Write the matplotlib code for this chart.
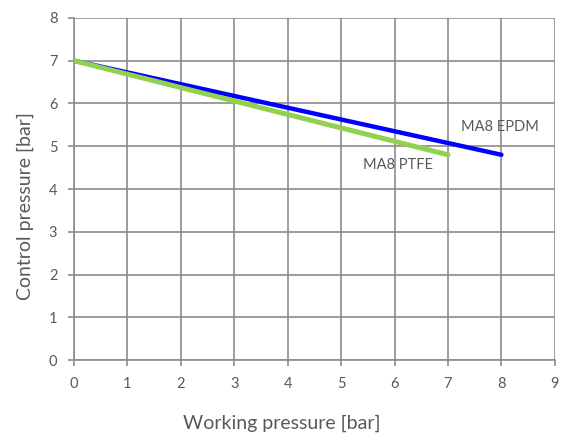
import matplotlib
matplotlib.use("Agg")
import matplotlib.pyplot as plt

plt.rcParams['font.family'] = ['Lato', 'DejaVu Sans']

# series data
epdm_x = [0, 8]
epdm_y = [7, 4.8]
ptfe_x = [0, 7]
ptfe_y = [7, 4.8]

x_ticks = [0, 1, 2, 3, 4, 5, 6, 7, 8, 9]
y_ticks = [0, 1, 2, 3, 4, 5, 6, 7, 8]

txt = '#595959'
grid = '#8c8c8c'

fig = plt.figure(figsize=(5.61, 4.37), dpi=100)
ax = fig.add_axes([0.132, 0.176, 0.857, 0.783])

ax.plot(epdm_x, epdm_y, color='#0000ff', lw=3.2, solid_capstyle='round', zorder=3)
ax.plot(ptfe_x, ptfe_y, color='#92d050', lw=3.6, solid_capstyle='round', zorder=4)

ax.text(7.97, 5.45, 'MA8 EPDM', color=txt, fontsize=10.5, ha='center', va='center')
ax.text(6.07, 4.56, 'MA8 PTFE', color=txt, fontsize=10.5, ha='center', va='center')

ax.set_xlim(0, 9)
ax.set_ylim(0, 8)
ax.set_xticks(x_ticks)
ax.set_yticks(y_ticks)
ax.grid(True, color=grid, lw=1.2)
ax.set_axisbelow(True)
for s in ax.spines.values():
    s.set_visible(False)
ax.spines['left'].set_visible(True)
ax.spines['bottom'].set_visible(True)
ax.spines['left'].set_color(grid)
ax.spines['bottom'].set_color(grid)
ax.spines['left'].set_linewidth(1.2)
ax.spines['bottom'].set_linewidth(1.2)
ax.tick_params(colors=grid, labelcolor=txt, labelsize=10.5, length=4, width=1.2, pad=8)

# axis titles centred like the spreadsheet chart does
fig.text(282 / 561, 1 - 423 / 437, 'Working pressure [bar]', color=txt, fontsize=14,
         ha='center', va='center')
fig.text(25 / 561, 1 - 206 / 437, 'Control pressure [bar]', color=txt, fontsize=14,
         ha='center', va='center', rotation=90)

fig.savefig('out.png', dpi=100)
